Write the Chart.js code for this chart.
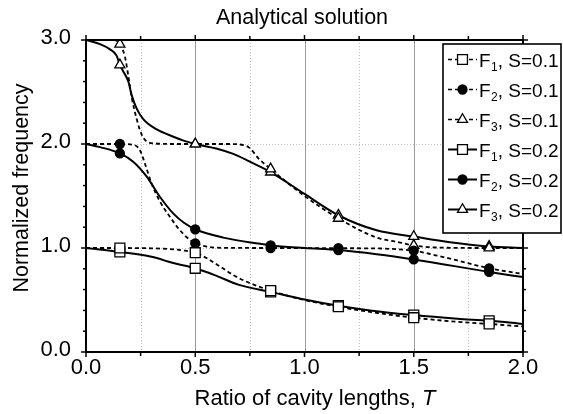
<!DOCTYPE html>
<html><head><meta charset="utf-8">
<script src="https://cdn.jsdelivr.net/npm/chart.js@4/dist/chart.umd.min.js"></script>
<style>html,body{margin:0;padding:0;background:#fff}canvas{display:block}</style>
</head><body>
<canvas id="c" width="563" height="414"></canvas>
<script>
// ---- text ----
const titleText = 'Analytical solution';
const xTitleText = 'Ratio of cavity lengths, ';
const xTitleItalic = 'T';
const yTitleText = 'Normalized frequency';
const xTickLabels = ['0.0', '0.5', '1.0', '1.5', '2.0'];
const yTickLabels = ['0.0', '1.0', '2.0', '3.0'];
const legendSub = ['1', '2', '3', '1', '2', '3'];
const legendRest = [', S=0.1', ', S=0.1', ', S=0.1', ', S=0.2', ', S=0.2', ', S=0.2'];

// ---- marker positions (T) ----
const markerT = [0.155, 0.5, 0.845, 1.155, 1.5, 1.845];

// ---- data: F1, S=0.1 ----
const f1s01T = [0, 0.155, 0.3, 0.38, 0.44, 0.5, 0.55, 0.6, 0.7, 0.845, 1.0, 1.155, 1.3, 1.5, 1.7, 1.845, 2.0];
const f1s01F = [1.0, 1.0, 0.997, 0.99, 0.978, 0.955, 0.905, 0.84, 0.71, 0.59, 0.50, 0.435, 0.385, 0.33, 0.29, 0.27, 0.245];
// ---- F2, S=0.1 ----
const f2s01T = [0, 0.155, 0.22, 0.247, 0.27, 0.30, 0.339, 0.384, 0.43, 0.476, 0.5, 0.552, 0.62, 0.845, 1.155, 1.35, 1.45, 1.5, 1.6, 1.7, 1.845, 2.0];
const f2s01F = [2.0, 2.0, 1.99, 1.94, 1.81, 1.62, 1.445, 1.30, 1.17, 1.077, 1.045, 1.013, 1.002, 1.0, 0.998, 0.995, 0.985, 0.975, 0.93, 0.88, 0.805, 0.75];
// ---- F3, S=0.1 ----
const f3s01T = [0, 0.13, 0.155, 0.178, 0.194, 0.209, 0.232, 0.255, 0.278, 0.32, 0.4, 0.5, 0.65, 0.72, 0.75, 0.79, 0.845, 1.0, 1.155, 1.33, 1.42, 1.5, 1.6, 1.845, 2.0];
const f3s01F = [3.0, 3.0, 2.96, 2.84, 2.65, 2.45, 2.24, 2.09, 2.025, 2.005, 2.0, 2.0, 2.0, 1.99, 1.96, 1.86, 1.76, 1.50, 1.285, 1.10, 1.06, 1.025, 1.005, 1.0, 1.0];
// ---- F1, S=0.2 ----
const f1s02T = [0, 0.155, 0.3, 0.4, 0.5, 0.6, 0.7, 0.845, 1.0, 1.155, 1.3, 1.5, 1.7, 1.845, 2.0];
const f1s02F = [1.0, 0.962, 0.915, 0.855, 0.805, 0.73, 0.645, 0.578, 0.505, 0.445, 0.40, 0.355, 0.32, 0.30, 0.27];
// ---- F2, S=0.2 ----
const f2s02T = [0, 0.064, 0.155, 0.216, 0.278, 0.339, 0.40, 0.45, 0.5, 0.628, 0.796, 0.845, 1.0, 1.155, 1.33, 1.5, 1.845, 2.0];
const f2s02F = [2.0, 1.97, 1.91, 1.83, 1.686, 1.49, 1.33, 1.24, 1.18, 1.10, 1.04, 1.025, 1.0, 0.98, 0.94, 0.89, 0.77, 0.72];
// ---- F3, S=0.2 ----
const f3s02T = [0, 0.064, 0.11, 0.14, 0.155, 0.17, 0.194, 0.209, 0.232, 0.262, 0.324, 0.40, 0.45, 0.5, 0.6, 0.674, 0.75, 0.845, 1.0, 1.155, 1.33, 1.5, 1.666, 1.845, 2.0];
const f3s02F = [3.0, 2.96, 2.91, 2.85, 2.76, 2.70, 2.60, 2.47, 2.34, 2.24, 2.14, 2.07, 2.03, 2.0, 1.955, 1.905, 1.83, 1.73, 1.52, 1.315, 1.17, 1.11, 1.055, 1.015, 1.0];

// ---- grid / tick values ----
const gridMajorX = [0.5, 1.0, 1.5];
const gridMinorX = [0.25, 0.75, 1.25, 1.75];
const gridY = [1.0, 2.0];
const xTickVals = [0, 0.25, 0.5, 0.75, 1.0, 1.25, 1.5, 1.75, 2.0];
const yTickVals = [0, 0.2, 0.4, 0.6, 0.8, 1.0, 1.2, 1.4, 1.6, 1.8, 2.0, 2.2, 2.4, 2.6, 2.8, 3.0];

const FONT = '"Liberation Sans", Arial, Helvetica, sans-serif';
const DASH = [4, 3];
const isMarker = t => markerT.some(m => Math.abs(m - t) < 1e-6);
const pts = (T, Fv) => T.map((t, i) => ({ x: t, y: Fv[i] }));

const styles = [
  { style: 'rect', r: 7, fill: '#fff', dash: DASH },
  { style: 'circle', r: 4.5, fill: '#000', dash: DASH },
  { style: 'triangle', r: 5.8, fill: '#fff', dash: DASH },
  { style: 'rect', r: 7, fill: '#fff', dash: [] },
  { style: 'circle', r: 4.5, fill: '#000', dash: [] },
  { style: 'triangle', r: 5.8, fill: '#fff', dash: [] },
];
const series = [
  pts(f1s01T, f1s01F), pts(f2s01T, f2s01F), pts(f3s01T, f3s01F),
  pts(f1s02T, f1s02F), pts(f2s02T, f2s02F), pts(f3s02T, f3s02F),
];

const datasets = series.map((d, i) => ({
  label: 'F' + legendSub[i] + legendRest[i],
  data: d,
  borderColor: '#000',
  borderWidth: styles[i].dash.length ? 1.8 : 2,
  borderDash: styles[i].dash,
  cubicInterpolationMode: 'monotone',
  pointStyle: styles[i].style,
  pointRadius: ctx => (ctx.raw && isMarker(ctx.raw.x)) ? styles[i].r : 0,
  pointHoverRadius: 0,
  pointBackgroundColor: styles[i].fill,
  pointBorderColor: '#000',
  pointBorderWidth: 1.3,
  fill: false,
}));

function drawMarker(ctx, s, cx, cy) {
  ctx.save();
  ctx.setLineDash([]);
  ctx.lineWidth = 1.3;
  ctx.strokeStyle = '#000';
  ctx.fillStyle = s.fill;
  ctx.beginPath();
  if (s.style === 'rect') {
    const h = s.r * Math.SQRT1_2;
    ctx.rect(cx - h, cy - h, 2 * h, 2 * h);
  } else if (s.style === 'circle') {
    ctx.arc(cx, cy, s.r, 0, Math.PI * 2);
  } else {
    let a = 0;
    ctx.moveTo(cx + Math.sin(a) * s.r, cy - Math.cos(a) * s.r);
    a += 2 * Math.PI / 3;
    ctx.lineTo(cx + Math.sin(a) * s.r, cy - Math.cos(a) * s.r);
    a += 2 * Math.PI / 3;
    ctx.lineTo(cx + Math.sin(a) * s.r, cy - Math.cos(a) * s.r);
    ctx.closePath();
  }
  ctx.fill();
  ctx.stroke();
  ctx.restore();
}

const decor = {
  id: 'decor',
  beforeDatasetsDraw(chart) {
    const { ctx, chartArea: a, scales: { x, y } } = chart;
    ctx.save();
    ctx.lineWidth = 1;
    const ln = (x1, y1, x2, y2) => { ctx.beginPath(); ctx.moveTo(x1, y1); ctx.lineTo(x2, y2); ctx.stroke(); };
    ctx.strokeStyle = '#bdbdbd';
    ctx.setLineDash([1, 2]);
    for (const v of gridMinorX) { const p = Math.round(x.getPixelForValue(v)) + 0.5; ln(p, a.top, p, a.bottom); }
    for (const v of gridY) { const p = Math.round(y.getPixelForValue(v)) + 0.5; ln(a.left, p, a.right, p); }
    ctx.setLineDash([]);
    ctx.strokeStyle = '#9a9a9a';
    for (const v of gridMajorX) { const p = Math.round(x.getPixelForValue(v)) + 0.5; ln(p, a.top, p, a.bottom); }
    ctx.restore();
  },
  afterDatasetsDraw(chart) {
    const { ctx, chartArea: a, scales: { x, y } } = chart;
    ctx.save();
    const ln = (x1, y1, x2, y2) => { ctx.beginPath(); ctx.moveTo(x1, y1); ctx.lineTo(x2, y2); ctx.stroke(); };
    ctx.strokeStyle = '#000';
    ctx.setLineDash([]);
    // ticks
    ctx.lineWidth = 1.5;
    for (const v of xTickVals) {
      const p = x.getPixelForValue(v);
      const major = Math.abs(v * 2 - Math.round(v * 2)) < 1e-6;
      const L = major ? 5 : 4;
      ln(p, a.bottom, p, a.bottom + L);
      ln(p, a.top, p, a.top - L);
    }
    for (const v of yTickVals) {
      const p = y.getPixelForValue(v);
      const major = Math.abs(v - Math.round(v)) < 1e-6;
      const L = major ? 5 : 3;
      ln(a.left, p, a.left - L, p);
      ln(a.right, p, a.right + L, p);
    }
    // frame
    ctx.lineWidth = 2;
    ctx.strokeRect(a.left, a.top, a.right - a.left, a.bottom - a.top);

    // titles
    ctx.fillStyle = '#000';
    ctx.textBaseline = 'alphabetic';
    ctx.textAlign = 'center';
    ctx.font = '21.5px ' + FONT;
    ctx.fillText(titleText, 302, 24);

    ctx.textAlign = 'left';
    ctx.font = '22px ' + FONT;
    const w1 = ctx.measureText(xTitleText).width;
    ctx.font = 'italic 22px ' + FONT;
    const w2 = ctx.measureText(xTitleItalic).width;
    const xs = 315 - (w1 + w2) / 2;
    ctx.font = '22px ' + FONT;
    ctx.fillText(xTitleText, xs, 405);
    ctx.font = 'italic 22px ' + FONT;
    ctx.fillText(xTitleItalic, xs + w1, 405);

    ctx.save();
    ctx.translate(28, 188);
    ctx.rotate(-Math.PI / 2);
    ctx.textAlign = 'center';
    ctx.font = '21.5px ' + FONT;
    ctx.fillText(yTitleText, 0, 0);
    ctx.restore();

    // legend
    const bx0 = 443, by0 = 44, bx1 = 561, by1 = 233;
    ctx.fillStyle = '#fff';
    ctx.fillRect(bx0, by0, bx1 - bx0, by1 - by0);
    ctx.lineWidth = 1.6;
    ctx.strokeStyle = '#000';
    ctx.strokeRect(bx0, by0, bx1 - bx0, by1 - by0);
    for (let i = 0; i < 6; i++) {
      const base = 66.5 + i * 30;
      const ly = base - 7;
      ctx.save();
      ctx.lineWidth = styles[i].dash.length ? 1.5 : 2;
      ctx.setLineDash(styles[i].dash);
      ln(448, ly, 477, ly);
      ctx.restore();
      drawMarker(ctx, styles[i], 462.5, ly);
      ctx.fillStyle = '#000';
      ctx.textAlign = 'left';
      ctx.font = '19px ' + FONT;
      ctx.fillText('F', 479, base);
      const wf = ctx.measureText('F').width;
      ctx.font = '12px ' + FONT;
      ctx.fillText(legendSub[i], 479 + wf + 0.5, base + 4.5);
      const ws = ctx.measureText(legendSub[i]).width;
      ctx.font = '19px ' + FONT;
      ctx.fillText(legendRest[i], 479 + wf + ws + 0.5, base);
    }
    ctx.restore();
  }
};

new Chart(document.getElementById('c'), {
  type: 'line',
  data: { datasets },
  options: {
    responsive: false,
    animation: false,
    devicePixelRatio: 1,
    layout: { padding: { left: 0, top: 40, right: 40, bottom: 0 } },
    plugins: { legend: { display: false }, tooltip: { enabled: false }, title: { display: false } },
    scales: {
      x: {
        type: 'linear', min: 0, max: 2,
        grid: { display: false },
        border: { display: false },
        ticks: {
          stepSize: 0.5, autoSkip: false, maxRotation: 0, padding: -5, color: '#000',
          font: { family: FONT, size: 22 },
          callback: (v) => { const i = Math.round(v / 0.5); return Math.abs(v - i * 0.5) < 1e-6 ? (xTickLabels[i] ?? '') : ''; }
        },
        afterFit: s => { s.height = 62; }
      },
      y: {
        type: 'linear', min: 0, max: 3,
        grid: { display: false },
        border: { display: false },
        ticks: {
          stepSize: 1, autoSkip: false, padding: 7, labelOffset: -2, color: '#000',
          font: { family: FONT, size: 22 },
          callback: (v) => { const i = Math.round(v); return Math.abs(v - i) < 1e-6 ? (yTickLabels[i] ?? '') : ''; }
        },
        afterFit: s => { s.width = 86; }
      }
    }
  },
  plugins: [decor]
});
</script>
</body></html>
